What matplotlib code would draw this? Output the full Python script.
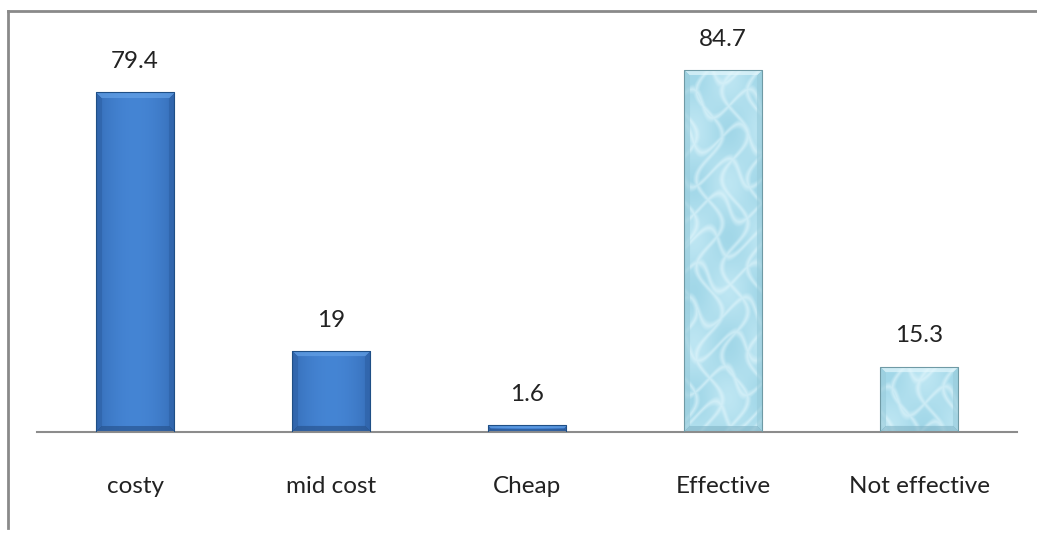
import numpy as np
import matplotlib
matplotlib.use("Agg")
import matplotlib.pyplot as plt
from matplotlib.lines import Line2D

categories = ["costy", "mid cost", "Cheap", "Effective", "Not effective"]
values = [79.4, 19, 1.6, 84.7, 15.3]
styles = ["blue", "blue", "blue", "water", "water"]

plt.rcParams["font.family"] = ["Lato", "DejaVu Sans"]

W, H, DPI = 1037, 534, 100
fig = plt.figure(figsize=(W / DPI, H / DPI), dpi=DPI)
fig.patch.set_facecolor("white")

ax = fig.add_axes([37 / W, 102 / H, 980 / W, 385 / H])
ax.set_xlim(-0.5, len(categories) - 0.5)
ax.set_ylim(0, 90)
for side in ("top", "right", "left"):
    ax.spines[side].set_visible(False)
ax.spines["bottom"].set_color("#8c8c8c")
ax.spines["bottom"].set_linewidth(1.5)
ax.set_yticks([])
ax.set_xticks(range(len(categories)))
ax.set_xticklabels(categories, fontsize=17.5, color="#222222")
ax.tick_params(axis="x", length=0, pad=32)

bars = ax.bar(range(len(categories)), values, width=0.4, color="none", zorder=2)


def bevel_image(wpx, hpx, kind):
    """Build an RGB image of a bevelled bar face, wpx x hpx pixels."""
    wpx = max(int(round(wpx)), 2)
    hpx = max(int(round(hpx)), 2)
    xs = np.arange(wpx)[None, :] + 0.5
    ys = np.arange(hpx)[:, None] + 0.5
    xx = np.broadcast_to(xs, (hpx, wpx))
    yy = np.broadcast_to(ys, (hpx, wpx))
    u = xx / wpx
    if kind == "blue":
        center = np.array([0.27, 0.52, 0.83])
        edge = np.array([0.21, 0.43, 0.72])
        prof = 1 - (2 * u - 1) ** 2
        img = edge + (center - edge) * prof[..., None]
        top_c = np.array([0.40, 0.64, 0.91])
        side_c = np.array([0.18, 0.38, 0.65])
        bot_c = np.array([0.15, 0.32, 0.55])
    else:
        base = np.array([0.74, 0.90, 0.95])
        light = np.array([0.90, 0.97, 0.99])
        deep = np.array([0.55, 0.80, 0.88])
        # soft rippled water-like pattern
        a = np.abs(np.sin(xx / 8.0 + 1.6 * np.sin(yy / 14.0)))
        b = np.abs(np.sin(yy / 11.0 + 1.3 * np.sin(xx / 9.0 + yy / 31.0)))
        caustic = np.clip(1 - 2.2 * np.minimum(a, b), 0, 1) * 0.6
        blob = 0.5 + 0.5 * np.sin(xx / 11.0 + 0.7) * np.sin(yy / 17.0 + 1.1)
        img = base + (deep - base) * (0.55 * blob)[..., None]
        img = img + (light - img) * caustic[..., None]
        top_c = np.array([0.90, 0.97, 0.99])
        side_c = np.array([0.60, 0.80, 0.86])
        bot_c = np.array([0.52, 0.72, 0.79])
    b = min(6, wpx / 3, hpx / 2)
    d_top = yy
    d_bot = hpx - yy
    d_left = xx
    d_right = wpx - xx
    dmin = np.minimum.reduce([d_top, d_bot, d_left, d_right])
    mask = dmin < b
    img = img.copy()
    for d, c in ((d_left, side_c), (d_right, side_c), (d_bot, bot_c), (d_top, top_c)):
        sel = mask & (d == dmin)
        img[sel] = img[sel] * 0.35 + c * 0.65
    return np.clip(img, 0, 1)


fig.canvas.draw()
px_per_unit_y = ax.transData.transform((0, 1))[1] - ax.transData.transform((0, 0))[1]
px_per_unit_x = ax.transData.transform((1, 0))[0] - ax.transData.transform((0, 0))[0]

for rect, kind, val in zip(bars, styles, values):
    x0 = rect.get_x()
    w = rect.get_width()
    h = rect.get_height()
    img = bevel_image(w * px_per_unit_x, h * px_per_unit_y, kind)
    im = ax.imshow(img, extent=(x0, x0 + w, 0, h), origin="upper",
                   aspect="auto", interpolation="bilinear", zorder=2)
    im.set_clip_path(rect)
    edge = "#1f4f86" if kind == "blue" else "#6f9aa5"
    ax.add_patch(plt.Rectangle((x0, 0), w, h, fill=False, edgecolor=edge,
                               linewidth=0.8, zorder=3))
    ax.annotate(f"{val:g}", (rect.get_x() + w / 2, h), xytext=(0, 22),
                textcoords="offset points", ha="center", va="center",
                fontsize=17.5, color="#222222")

ax.set_xlim(-0.5, len(categories) - 0.5)
ax.set_ylim(0, 90)

# outer frame lines (top and left)
fig.add_artist(Line2D([8 / W, 1], [1 - 11 / H, 1 - 11 / H], transform=fig.transFigure,
                      color="#8a8a8a", linewidth=2.0))
fig.add_artist(Line2D([8 / W, 8 / W], [1 - 11 / H, 1 - 528 / H], transform=fig.transFigure,
                      color="#8a8a8a", linewidth=2.0))

fig.savefig("out.png", dpi=DPI, facecolor="white")
